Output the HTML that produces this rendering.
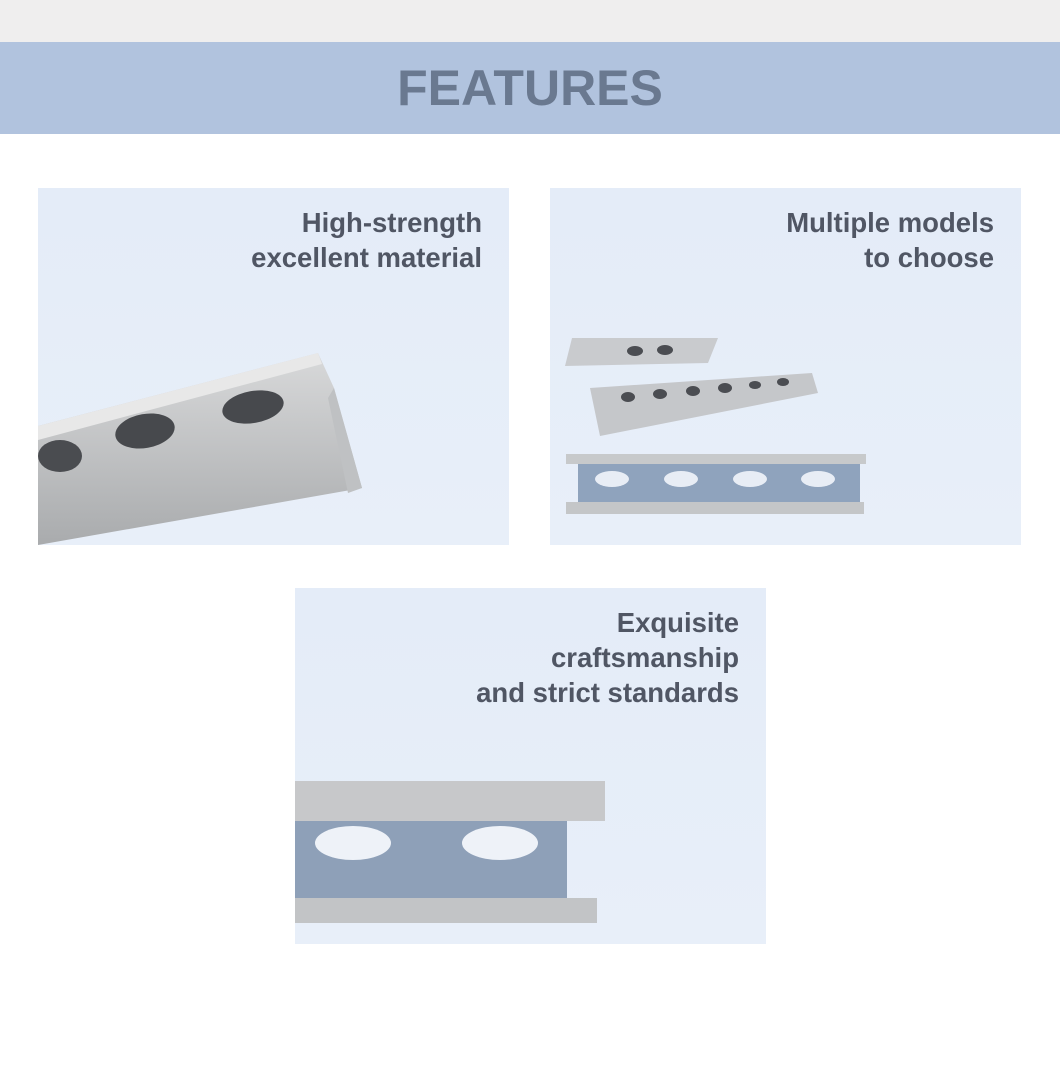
<!DOCTYPE html>
<html><head><meta charset="utf-8"><style>
body{margin:0;width:1060px;height:1066px;background:#fff;position:relative;overflow:hidden;font-family:"Liberation Sans",Arial,sans-serif}
.top{position:absolute;left:0;top:0;width:1060px;height:42px;background:#efeeee}
.band{position:absolute;left:0;top:42px;width:1060px;height:92px;background:#b1c3de;text-align:center;line-height:92px;font-size:50px;font-weight:bold;color:#6a7990}
.p{position:absolute;background:linear-gradient(180deg,#e4ecf8,#e8eff9);overflow:hidden}
.t{position:absolute;right:27px;top:17px;text-align:right;font-size:27.5px;font-weight:bold;color:#505664;line-height:35px}
svg{position:absolute;left:0;top:0}
</style></head><body>
<div class="top"></div>
<div class="band">FEATURES</div>

<div class="p" style="left:38px;top:188px;width:471px;height:357px">
<div class="t">High-strength<br>excellent material</div>
<svg width="471" height="357">
<defs><linearGradient id="g1" x1="0" y1="0" x2="0" y2="1"><stop offset="0" stop-color="#d8d9da"/><stop offset="1" stop-color="#a9abad"/></linearGradient></defs>
<polygon points="0,238 280,165 296,200 324,300 0,357" fill="url(#g1)"/>
<polygon points="0,238 280,165 284,176 0,252" fill="#e8e8e8"/>
<polygon points="296,200 324,300 310,305 290,210" fill="#bfc1c3"/>
<ellipse cx="22" cy="268" rx="22" ry="16" fill="#4a4c50"/>
<ellipse cx="107" cy="243" rx="30" ry="17" fill="#47494d" transform="rotate(-10 107 243)"/>
<ellipse cx="215" cy="219" rx="31" ry="16" fill="#47494d" transform="rotate(-10 215 219)"/>
</svg></div>

<div class="p" style="left:550px;top:188px;width:471px;height:357px">
<div class="t">Multiple models<br>to choose</div>
<svg width="471" height="357">
<polygon points="22,150 168,150 158,175 15,178" fill="#c9cbce"/>
<polygon points="40,200 262,185 268,205 50,248" fill="#c5c7ca"/>
<g fill="#4b4d52"><ellipse cx="85" cy="163" rx="8" ry="5"/><ellipse cx="115" cy="162" rx="8" ry="5"/><ellipse cx="78" cy="209" rx="7" ry="5"/><ellipse cx="110" cy="206" rx="7" ry="5"/><ellipse cx="143" cy="203" rx="7" ry="5"/><ellipse cx="175" cy="200" rx="7" ry="5"/><ellipse cx="205" cy="197" rx="6" ry="4"/><ellipse cx="233" cy="194" rx="6" ry="4"/></g>
<rect x="16" y="266" width="300" height="10" fill="#c7c9cb"/>
<rect x="28" y="276" width="282" height="38" fill="#8fa3bd"/>
<g fill="#e8edf5"><ellipse cx="62" cy="291" rx="17" ry="8"/><ellipse cx="131" cy="291" rx="17" ry="8"/><ellipse cx="200" cy="291" rx="17" ry="8"/><ellipse cx="268" cy="291" rx="17" ry="8"/></g>
<rect x="16" y="314" width="298" height="12" fill="#c4c6c8"/>
</svg></div>

<div class="p" style="left:295px;top:588px;width:471px;height:356px">
<div class="t">Exquisite<br>craftsmanship<br>and strict standards</div>
<svg width="471" height="356">
<rect x="0" y="193" width="310" height="40" fill="#c7c8ca"/>
<rect x="0" y="233" width="272" height="80" fill="#8ea0b8"/>
<g fill="#eef2f8"><ellipse cx="58" cy="255" rx="38" ry="17"/><ellipse cx="205" cy="255" rx="38" ry="17"/></g>
<rect x="0" y="310" width="302" height="25" fill="#c2c4c6"/>
</svg></div>
</body></html>
